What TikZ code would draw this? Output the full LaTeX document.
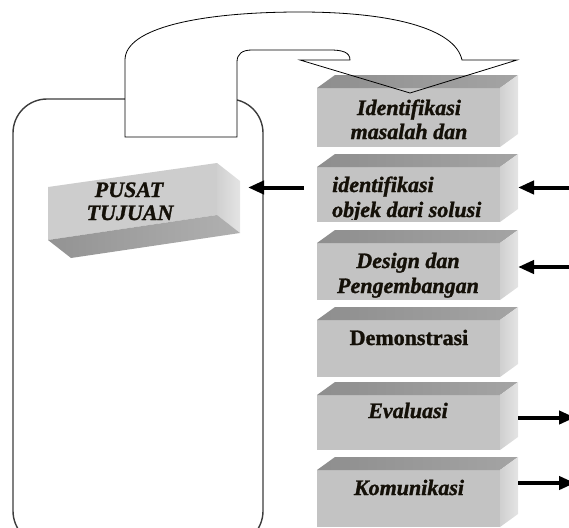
\documentclass[tikz,border=0pt]{standalone}
\usepackage{fontspec}
\setmainfont{Liberation Serif}
\newfontfamily\lblfont[BoldItalicFeatures={FakeBold=1.3}, BoldFeatures={FakeBold=1.3}]{Liberation Serif}
\usetikzlibrary{arrows.meta}

\definecolor{facefront}{HTML}{C3C3C3}
\definecolor{topL}{HTML}{8E8E8E}
\definecolor{topR}{HTML}{A4A4A4}
\definecolor{sideL}{HTML}{D0D0D0}
\definecolor{sideR}{HTML}{E4E4E4}
\definecolor{pfront}{HTML}{CDCDCD}
\definecolor{pbottom}{HTML}{A3A3A3}
\definecolor{ink}{HTML}{141008}
\definecolor{framecol}{HTML}{3C3C3C}

% one step block: front face as a node, plus its top and right faces
\newcommand\stepblock[4]{%
  \node[facenode, minimum height=#4pt] (#1) at (#2,#3) {};
  \shade[left color=topL, right color=topR]
    (#1.north west) -- ++(18,-13) -- ([shift={(18,-13)}]#1.north east) -- (#1.north east) -- cycle;
  \shade[left color=sideL, right color=sideR]
    (#1.north east) -- ++(18,-13) -- ([shift={(18,-13)}]#1.south east) -- (#1.south east) -- cycle;
}

\begin{document}
\begin{tikzpicture}[x=1pt,y=-1pt,
  facenode/.style={rectangle, draw=none, inner sep=0pt, outer sep=0pt,
    anchor=north west, minimum width=183pt, fill=facefront},
  lbl/.style={inner sep=0pt, text=ink, font=\lblfont\fontsize{22}{26}\selectfont\bfseries\itshape},
  lblup/.style={inner sep=0pt, text=ink, font=\lblfont\fontsize{22}{26}\selectfont\bfseries},
  bigarrow/.style={draw=black, line width=4pt, -{Triangle[length=16pt,width=13pt]}},
  outline/.style={draw=black, line width=0.8pt, line join=miter},
]
\useasboundingbox (0,0) rectangle (569,527);
\clip (0,0) rectangle (569,527);

% left frame
\draw[framecol, line width=1.4pt, rounded corners=34pt] (13,99) rectangle (263,545);

% U-turn arrow body (white fill first, outline drawn after the blocks)
\fill[white] (125,137) -- (125,60)
  .. controls (125,28) and (200,12) .. (300,12)
  .. controls (390,12) and (455,28) .. (462,60)
  -- (517,60) -- (410,93) -- (300,60) -- (350,60)
  .. controls (350,52) and (342,50) .. (330,50) -- (252,50)
  .. controls (242,50) and (237,54) .. (237,62) -- (237,137) -- cycle;

% step blocks
\stepblock{b1}{317}{88}{59}
\stepblock{b2}{317}{167}{55}
\stepblock{b3}{317}{243}{57}
\stepblock{b4}{317}{320}{57}
\stepblock{b5}{317}{395}{55}
\stepblock{b6}{317}{470}{57}

% U-turn arrow outline
\draw[outline] (125,137) -- (125,60)
  .. controls (125,28) and (200,12) .. (300,12)
  .. controls (390,12) and (455,28) .. (462,60)
  -- (517,60) -- (410,93) -- (300,60) -- (350,60)
  .. controls (350,52) and (342,50) .. (330,50) -- (252,50)
  .. controls (242,50) and (237,54) .. (237,62) -- (237,137) -- cycle;

% block labels
\node[lbl, anchor=base] (t1a) at (409,115) {Identifikasi};
\node[lbl, anchor=base] (t1b) at (409,139) {masalah dan};
\begin{scope}
  \clip (b2.north west) rectangle ([yshift=3]b2.south east);
  \node[lbl, anchor=base west] (t2a) at (332,192) {identifikasi};
  \node[lbl, anchor=base west] (t2b) at (332,217) {objek dari solusi};
\end{scope}
\begin{scope}
  \clip (b3.north west) rectangle ([yshift=3]b3.south east);
  \node[lbl, anchor=base] (t3a) at (408,268) {Design dan};
  \node[lbl, anchor=base] (t3b) at (408,293) {Pengembangan};
\end{scope}
\node[lblup, anchor=base] (t4) at (409,345) {Demonstrasi};
\node[lbl, anchor=base] (t5) at (408,418) {Evaluasi};
\node[lbl, anchor=base] (t6) at (409,495) {Komunikasi};

% tilted centre block
\fill[pfront] (48,187) -- (217,163) -- (217,215) -- (48,240) -- cycle;
\shade[left color=sideL, right color=sideR] (217,163) -- (240,181) -- (240,233) -- (217,215) -- cycle;
\shade[left color=pbottom!90!black, right color=pbottom!85!white] (48,240) -- (217,215) -- (240,233) -- (71,258) -- cycle;
\node[lbl, anchor=base] (pa) at (129,197) {PUSAT};
\node[lbl, anchor=base] (pb) at (130,220) {TUJUAN};

% connector end points
\coordinate (pusattip) at (248,187.5);
\coordinate (feed2) at (580,187.5);
\coordinate (feed3) at (580,267);
\coordinate (out5) at (575,417.5);
\coordinate (out6) at (575,483);

% arrows
\draw[bigarrow] ([shift={(-13,-7)}]b2.west) -- (pusattip);
\draw[bigarrow] (feed2) -- ([shift={(18,-7)}]b2.east);
\draw[bigarrow] (feed3) -- ([shift={(18,-4.5)}]b3.east);
\draw[bigarrow] ([shift={(18,-5)}]b5.east) -- (out5);
\draw[bigarrow] ([shift={(18,-15.5)}]b6.east) -- (out6);
\end{tikzpicture}
\end{document}
